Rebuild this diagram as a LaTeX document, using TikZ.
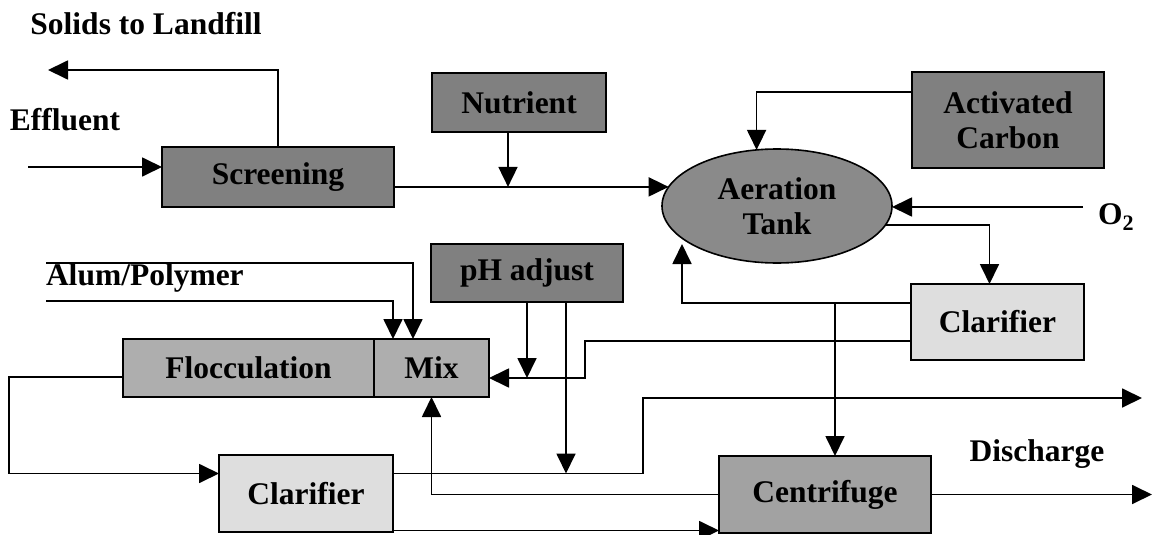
\documentclass[tikz,border=0pt]{standalone}
\usepackage{fontspec}
\setmainfont{Liberation Serif}
\usetikzlibrary{arrows.meta,shapes.geometric}
\definecolor{gDark}{HTML}{808080}
\definecolor{gEll}{HTML}{8A8A8A}
\definecolor{gMid}{HTML}{AEAEAE}
\definecolor{gCen}{HTML}{A2A2A2}
\definecolor{gLight}{HTML}{DEDEDE}
\begin{document}
\begin{tikzpicture}[x=1pt,y=-1pt,
  font=\fontsize{31.5}{35}\selectfont\bfseries,
  box/.style={draw=black,line width=1.6pt,inner sep=0pt,outer sep=0pt,align=center},
  lab/.style={inner sep=0pt,outer sep=0pt},
  arr/.style={line width=1.8pt,-{Triangle[length=20pt,width=19pt]}}]
\useasboundingbox (0,0) rectangle (1154,535);

% boxes
\node[box,fill=gDark,minimum width=232pt,minimum height=60pt] (scr) at (278,177) {Screening};
\node[box,fill=gDark,minimum width=174pt,minimum height=59pt] (nut) at (519,102.5) {Nutrient};
\node[box,fill=gDark,minimum width=192pt,minimum height=96pt] (ac) at (1008,120) {Activated\\Carbon};
\node[box,ellipse,fill=gEll,minimum width=230pt,minimum height=114pt] (aer) at (777,206) {Aeration\\Tank};
\node[box,fill=gDark,minimum width=192pt,minimum height=58pt] (ph) at (527,273) {pH adjust};
\node[box,fill=gMid,minimum width=251pt,minimum height=58pt] (floc) at (248.5,368) {Flocculation};
\node[box,fill=gMid,minimum width=115pt,minimum height=58pt] (mix) at (431.5,368) {Mix};
\node[box,fill=gLight,minimum width=173pt,minimum height=76pt] (clarR) at (997.5,322) {Clarifier};
\node[box,fill=gLight,minimum width=174pt,minimum height=77pt] (clarL) at (306,493.5) {Clarifier};
\node[box,fill=gCen,minimum width=212pt,minimum height=77pt] (cen) at (825,494.5) {Centrifuge};

% labels
\node[lab,anchor=base] (tSol) at (146,35) {Solids to Landfill};
\node[lab,anchor=base] (tEff) at (65,130) {Effluent};
\node[lab,anchor=base west] (tAlum) at (46,285) {Alum/Polymer};
\node[lab,anchor=base west] (tO2) at (1098,224) {O\textsubscript{2}};
\node[lab,anchor=base] (tDis) at (1037,461) {Discharge};

% free ends and shifted anchors
\coordinate (effIn) at (28,167);
\coordinate (solOut) at (48,70);
\coordinate (o2In) at (1083,207);
\coordinate (retTip) at (682,244);
\coordinate (jW) at (835,303);
\coordinate (mixKnee) at (585,378);
\coordinate (disKnee) at (643,398);
\coordinate (dis1) at (1142,398);
\coordinate (dis2) at (1152,494.5);
\coordinate (al1) at (46,263);
\coordinate (al2) at (46,301);
\coordinate (floKnee) at (9,377);
\coordinate (nutOut) at ([xshift=-11pt]nut.south);
\coordinate (acOut) at ([yshift=28pt]ac.west);
\coordinate (clarRin) at ([xshift=-8pt]clarR.north);
\coordinate (clarRret) at ([yshift=19pt]clarR.west);
\coordinate (clarRmix) at ([yshift=-19pt]clarR.west);
\coordinate (mixIn) at ([yshift=-10pt]mix.east);
\coordinate (phOut2) at ([xshift=39pt]ph.south);
\coordinate (clarLout) at ([yshift=20pt]clarL.east);
\coordinate (clarLbot) at ([yshift=1.5pt]clarL.south east);
\coordinate (clarLin) at ([yshift=20pt]clarL.west);
\coordinate (flocOut) at ([yshift=-9pt]floc.west);
\coordinate (mixTop1) at ([xshift=-18.5pt]mix.north);
\coordinate (mixTop2) at ([xshift=-38.5pt]mix.north);

% connectors
\draw[arr] (effIn) -- (effIn -| scr.west);
\draw[arr] (scr.north) |- (solOut);
\draw[arr] (scr.east |- aer.170) -- (aer.170);
\draw[arr] (nutOut) -- (nutOut |- aer.170);
\draw[arr] (acOut) -| (aer.110);
\draw[arr] (o2In) -- (o2In -| aer.east);
\draw[arr] (aer.-10) -| (clarRin);
\draw[arr] (clarRret) -| (retTip);
\draw[arr] (jW) -- (jW |- cen.north);
\draw[arr] (clarRmix) -| (mixKnee) -- (mixIn);
\draw[arr] (ph.south) -- (ph.south |- mixIn);
\draw[arr] (phOut2) -- (phOut2 |- clarLout);
\draw[arr] (clarLout) -| (disKnee) -- (dis1);
\draw[arr] (clarLbot) -- (clarLbot -| cen.west);
\draw[arr] (cen.west) -| (mix.south);
\draw[arr] (cen.east) -- (dis2);
\draw[arr] (flocOut) -- (floKnee) |- (clarLin);
\draw[arr] (al1) -| (mixTop1);
\draw[arr] (al2) -| (mixTop2);
\end{tikzpicture}
\end{document}
